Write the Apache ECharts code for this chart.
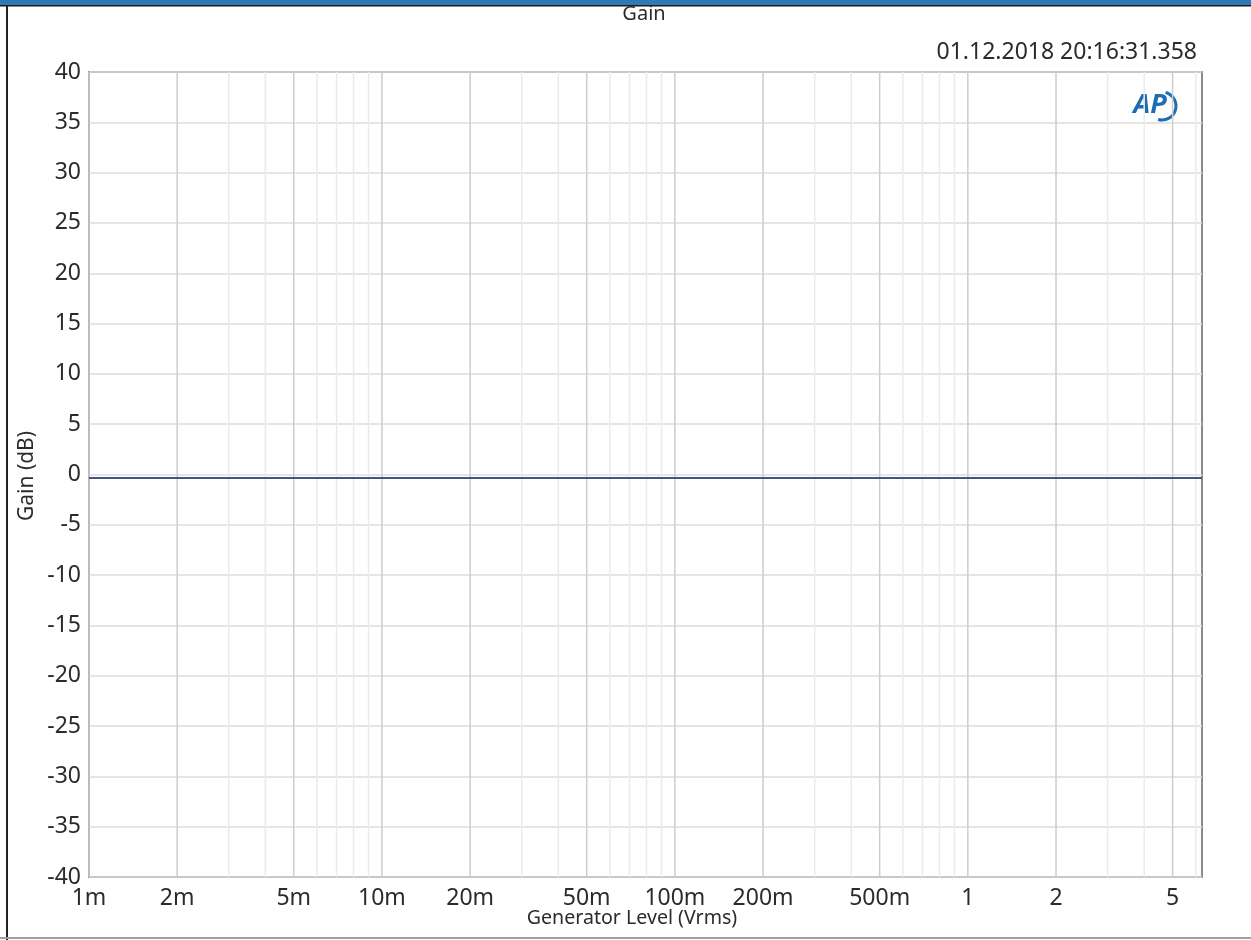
<!DOCTYPE html>
<html><head><meta charset="utf-8">
<script src="https://cdn.jsdelivr.net/npm/echarts@6/dist/echarts.min.js"></script>
<style>html,body{margin:0;padding:0;background:#fff}#c{width:1251px;height:940px}</style>
</head><body><div id="c"></div>
<script>
// ---- data ----
const generatorLevel = [0.001, 0.002, 0.005, 0.01, 0.02, 0.05, 0.1, 0.2, 0.5, 1, 2, 5, 6.3];
const gainDb =         [-0.35, -0.35, -0.35, -0.35, -0.35, -0.35, -0.35, -0.35, -0.35, -0.35, -0.35, -0.35, -0.35];
const xMajorTicks = [0.001, 0.002, 0.005, 0.01, 0.02, 0.05, 0.1, 0.2, 0.5, 1, 2, 5];
const xMajorLabels = ['1m', '2m', '5m', '10m', '20m', '50m', '100m', '200m', '500m', '1', '2', '5'];
const xMinorTicks = [0.003, 0.004, 0.006, 0.007, 0.008, 0.009,
                     0.03, 0.04, 0.06, 0.07, 0.08, 0.09,
                     0.3, 0.4, 0.6, 0.7, 0.8, 0.9,
                     3, 4, 6];
const xMin = 0.001, xMax = 6.3;
const yMin = -40, yMax = 40, yStep = 5;
const titleText = 'Gain';
const stampText = '01.12.2018 20:16:31.358';
const xName = 'Generator Level (Vrms)';
const yName = 'Gain (dB)';

const FONT = 'Noto Sans';
const TXT = '#2b2b2b';

const chart = echarts.init(document.getElementById('c'), null, {renderer: 'canvas'});

function gridLineItem(color, withLabel) {
  return function (params, api) {
    const v = api.value(0);
    const p0 = api.coord([v, yMin]);
    const p1 = api.coord([v, yMax]);
    const children = [{
      type: 'line',
      shape: {x1: p0[0], y1: p0[1], x2: p1[0], y2: p1[1]},
      style: {stroke: color, lineWidth: 1.5}
    }];
    if (withLabel) {
      children.push({
        type: 'text', x: p0[0], y: p0[1] + 21,
        style: {text: xMajorLabels[params.dataIndex], fill: TXT,
                font: '23px "' + FONT + '"', align: 'center', verticalAlign: 'middle'}
      });
    }
    return {type: 'group', children: children};
  };
}

chart.setOption({
  animation: false,
  backgroundColor: '#fff',
  grid: {
    left: 89, top: 72, width: 1113, height: 805,
    show: true, borderColor: '#8a8a8a', borderWidth: 2, backgroundColor: 'transparent'
  },
  xAxis: {
    type: 'log', logBase: 10, min: xMin, max: xMax,
    axisLine: {show: false}, axisTick: {show: false},
    axisLabel: {show: false}, splitLine: {show: false}
  },
  yAxis: {
    type: 'value', min: yMin, max: yMax, interval: yStep,
    axisLine: {show: false}, axisTick: {show: false},
    axisLabel: {color: TXT, fontFamily: FONT, fontSize: 23, margin: 8},
    splitLine: {show: true, lineStyle: {color: '#dcdcdc', width: 1.5}}
  },
  series: [
    {
      name: 'minorGrid', type: 'custom', z: 1, silent: true, clip: false,
      data: xMinorTicks.map(v => [v, 0]),
      encode: {x: 0, y: 1},
      renderItem: gridLineItem('#ebebeb', false)
    },
    {
      name: 'majorGrid', type: 'custom', z: 2, silent: true, clip: false,
      data: xMajorTicks.map(v => [v, 0]),
      encode: {x: 0, y: 1},
      renderItem: gridLineItem('#cdcdcd', true)
    },
    {
      name: 'Gain', type: 'line', z: 5,
      data: generatorLevel.map((x, i) => [x, gainDb[i]]),
      showSymbol: false, symbol: 'none',
      lineStyle: {color: '#45557a', width: 2}
    }
  ],
  graphic: [
    {type: 'rect', left: 0, top: 0, shape: {width: 1251, height: 5}, style: {fill: '#2d7ab5'}, silent: true},
    {type: 'rect', left: 0, top: 5, shape: {width: 1251, height: 1.5}, style: {fill: '#1b1b1b'}, silent: true},
    {type: 'rect', left: 6, top: 5, shape: {width: 2, height: 935}, style: {fill: '#222'}, silent: true},
    {type: 'rect', left: 0, top: 937, shape: {width: 1251, height: 2}, style: {fill: '#a0a0a0'}, silent: true},
    {type: 'text', x: 644, y: 14, style: {text: titleText, font: '20px "' + FONT + '"', fill: TXT, align: 'center', verticalAlign: 'middle'}},
    {type: 'text', x: 1197, y: 52, style: {text: stampText, font: '23px "' + FONT + '"', fill: TXT, align: 'right', verticalAlign: 'middle'}},
    {type: 'text', x: 632, y: 918, style: {text: xName, font: '19.6px "' + FONT + '"', fill: TXT, align: 'center', verticalAlign: 'middle'}},
    {type: 'text', x: 27, y: 476, rotation: Math.PI / 2, style: {text: yName, font: '21px "' + FONT + '"', fill: TXT, align: 'center', verticalAlign: 'middle'}},
    {type: 'text', x: 1150, y: 105, style: {text: 'AP', font: 'italic bold 27px "' + FONT + '"', fill: '#1f6db0', align: 'center', verticalAlign: 'middle'}},
    {type: 'arc', x: 1162, y: 106, shape: {cx: 0, cy: 0, r: 14, startAngle: -Math.PI / 2.4, endAngle: Math.PI / 1.7}, style: {stroke: '#1f6db0', lineWidth: 3, fill: 'none'}}
  ]
});
</script>
</body></html>
